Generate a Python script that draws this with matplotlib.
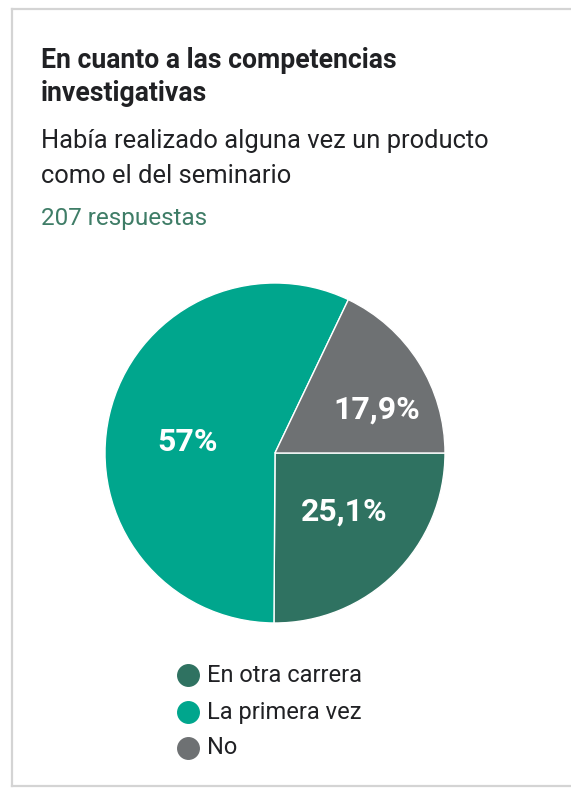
import numpy as np
import matplotlib
matplotlib.use("Agg")
import matplotlib.pyplot as plt
from matplotlib.lines import Line2D

# Survey answers
categories = ["En otra carrera", "La primera vez", "No"]
shares = [25.1, 57.0, 17.9]
pct_labels = ["25,1%", "57%", "17,9%"]
colors = ["#2f7261", "#00a68d", "#6e7173"]

title_lines = ["En cuanto a las competencias", "investigativas"]
subtitle_lines = ["Había realizado alguna vez un producto", "como el del seminario"]
responses_text = "207 respuestas"

W, H = 571, 788
plt.rcParams["font.family"] = ["Roboto", "DejaVu Sans"]
fig = plt.figure(figsize=(W / 100, H / 100), dpi=100)
fig.patch.set_facecolor("white")


def fx(x):
    return x / W


def fy(y):
    return 1 - y / H


# Card outline (top, left and bottom edges)
border = dict(color="#d4d4d4", linewidth=1.6, transform=fig.transFigure)
fig.lines.append(Line2D([fx(12), 1.0], [fy(9), fy(9)], **border))
fig.lines.append(Line2D([fx(12), fx(12)], [fy(9), fy(786)], **border))
fig.lines.append(Line2D([fx(12), 1.0], [fy(786), fy(786)], **border))

# Header text
fig.text(fx(41), fy(68), title_lines[0], fontsize=19.2, fontweight="bold",
         color="#202124", va="baseline")
fig.text(fx(41), fy(101), title_lines[1], fontsize=19.2, fontweight="bold",
         color="#202124", va="baseline")
fig.text(fx(41), fy(148), subtitle_lines[0], fontsize=18.4, color="#202124",
         va="baseline")
fig.text(fx(41), fy(183), subtitle_lines[1], fontsize=18.4, color="#202124",
         va="baseline")
fig.text(fx(41), fy(225), responses_text, fontsize=17.5, color="#3f7d67",
         va="baseline")

# Pie
cx, cy, r = 275, 453, 170
ax = fig.add_axes([fx(cx - r), fy(cy + r), (2 * r) / W, (2 * r) / H])
wedges, _ = ax.pie(shares, colors=colors, startangle=0, counterclock=False,
                   radius=1.0,
                   wedgeprops=dict(edgecolor="white", linewidth=1.0))
ax.set_xlim(-1, 1)
ax.set_ylim(-1, 1)
ax.set_aspect("equal")
ax.axis("off")

# Percentage labels placed near each wedge's bisector
label_radius = [0.53, 0.52, 0.65]
angle_shift = [5.0, 6.0, -9.0]
for w, lab, rr, da in zip(wedges, pct_labels, label_radius, angle_shift):
    mid = np.deg2rad((w.theta1 + w.theta2) / 2 + da)
    ax.text(rr * np.cos(mid), rr * np.sin(mid), lab, ha="center", va="center",
            fontsize=23, fontweight="bold", color="white")

# Legend
leg_y = [675, 712, 748]
for name, col, y in zip(categories, colors, leg_y):
    fig.lines.append(Line2D([fx(188)], [fy(y)], marker="o", markersize=15.5,
                            markerfacecolor=col, markeredgecolor=col,
                            linestyle="none", transform=fig.transFigure))
    fig.text(fx(207), fy(y), name, fontsize=17, color="#202124", va="center")

fig.savefig("out.png", dpi=100, facecolor="white")
